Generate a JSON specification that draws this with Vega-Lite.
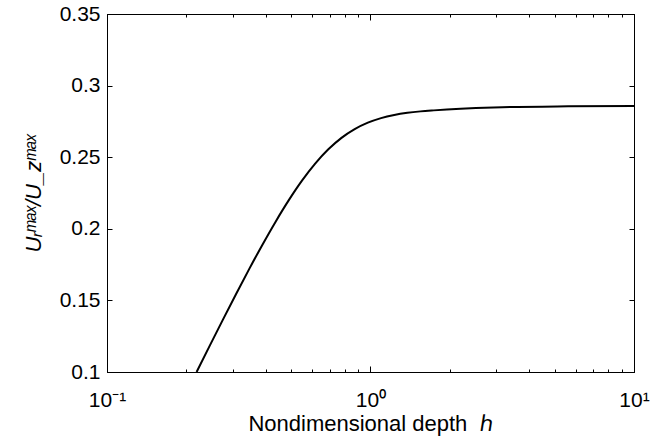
{
  "$schema": "https://vega.github.io/schema/vega-lite/v6.json",
  "width": 527,
  "height": 358,
  "autosize": "none",
  "padding": {"left": 107, "top": 14, "right": 30, "bottom": 70},
  "background": "white",
  "config": {
    "view": {"stroke": "black", "strokeWidth": 1},
    "axis": {
      "grid": false,
      "domainColor": "black",
      "domainWidth": 1,
      "tickColor": "black",
      "tickWidth": 1,
      "labelColor": "black",
      "titleColor": "black",
      "labelFont": "Liberation Sans",
      "titleFont": "Liberation Sans",
      "labelFontSize": 21,
      "titleFontSize": 22,
      "titleFontWeight": "normal",
      "labelFlush": false,
      "labelOverlap": false,
      "labelBound": false
    }
  },
  "data": {
    "values": [
      {"h": 0.2188, "ratio": 0.1},
      {"h": 0.2455, "ratio": 0.1184},
      {"h": 0.2754, "ratio": 0.1366},
      {"h": 0.309, "ratio": 0.1545},
      {"h": 0.3467, "ratio": 0.172},
      {"h": 0.389, "ratio": 0.1889},
      {"h": 0.4365, "ratio": 0.205},
      {"h": 0.4898, "ratio": 0.22},
      {"h": 0.5495, "ratio": 0.2336},
      {"h": 0.6166, "ratio": 0.2455},
      {"h": 0.6918, "ratio": 0.2555},
      {"h": 0.7762, "ratio": 0.2635},
      {"h": 0.871, "ratio": 0.2696},
      {"h": 0.9772, "ratio": 0.2741},
      {"h": 1.0965, "ratio": 0.2773},
      {"h": 1.2303, "ratio": 0.2795},
      {"h": 1.3804, "ratio": 0.281},
      {"h": 1.5488, "ratio": 0.282},
      {"h": 1.7378, "ratio": 0.2827},
      {"h": 1.9498, "ratio": 0.2833},
      {"h": 2.5119, "ratio": 0.2843},
      {"h": 3.1623, "ratio": 0.2849},
      {"h": 5.6234, "ratio": 0.2855},
      {"h": 10, "ratio": 0.2857}
    ]
  },
  "layer": [
    {
      "mark": {"type": "line", "color": "black", "strokeWidth": 2, "interpolate": "monotone"},
      "encoding": {
        "x": {
          "field": "h",
          "type": "quantitative",
          "scale": {"type": "log", "domain": [0.1, 10], "nice": false},
          "axis": {
            "orient": "bottom",
            "title": "Nondimensional depth\u00a0\u00a0ℎ",
            "titleY": 58,
            "titleBaseline": "alphabetic",
            "values": [0.1, 0.2, 0.3, 0.4, 0.5, 0.6, 0.7, 0.8, 0.9, 1, 2, 3, 4, 5, 6, 7, 8, 9, 10],
            "labelExpr": "datum.value == 0.1 ? '10⁻¹' : datum.value == 1 ? '10⁰' : datum.value == 10 ? '10¹' : ''",
            "tickSize": {"condition": {"test": "datum.value == 0.1 || datum.value == 1 || datum.value == 10", "value": -6}, "value": -3},
            "labelPadding": 23
          }
        },
        "y": {
          "field": "ratio",
          "type": "quantitative",
          "scale": {"domain": [0.1, 0.35], "nice": false, "zero": false},
          "axis": {
            "orient": "left",
            "title": "Uᵣᵐᵃˣ/U_zᵐᵃˣ",
            "titleFontStyle": "italic",
            "titleFontSize": 22,
            "titleX": -67,
            "titleBaseline": "alphabetic",
            "values": [0.1, 0.15, 0.2, 0.25, 0.3, 0.35],
            "labelExpr": "format(datum.value, '~g')",
            "tickSize": -5,
            "labelPadding": 12
          }
        }
      }
    },
    {
      "mark": {"type": "line", "opacity": 0},
      "encoding": {
        "x": {
          "field": "h",
          "type": "quantitative",
          "scale": {"type": "log", "domain": [0.1, 10], "nice": false},
          "axis": {
            "orient": "top",
            "title": null,
            "labels": false,
            "values": [0.1, 0.2, 0.3, 0.4, 0.5, 0.6, 0.7, 0.8, 0.9, 1, 2, 3, 4, 5, 6, 7, 8, 9, 10],
            "tickSize": {"condition": {"test": "datum.value == 0.1 || datum.value == 1 || datum.value == 10", "value": -6}, "value": -3}
          }
        },
        "y": {
          "field": "ratio",
          "type": "quantitative",
          "scale": {"domain": [0.1, 0.35], "nice": false, "zero": false},
          "axis": {
            "orient": "right",
            "title": null,
            "labels": false,
            "values": [0.1, 0.15, 0.2, 0.25, 0.3, 0.35],
            "tickSize": -5
          }
        }
      }
    }
  ],
  "resolve": {"axis": {"x": "independent", "y": "independent"}}
}
